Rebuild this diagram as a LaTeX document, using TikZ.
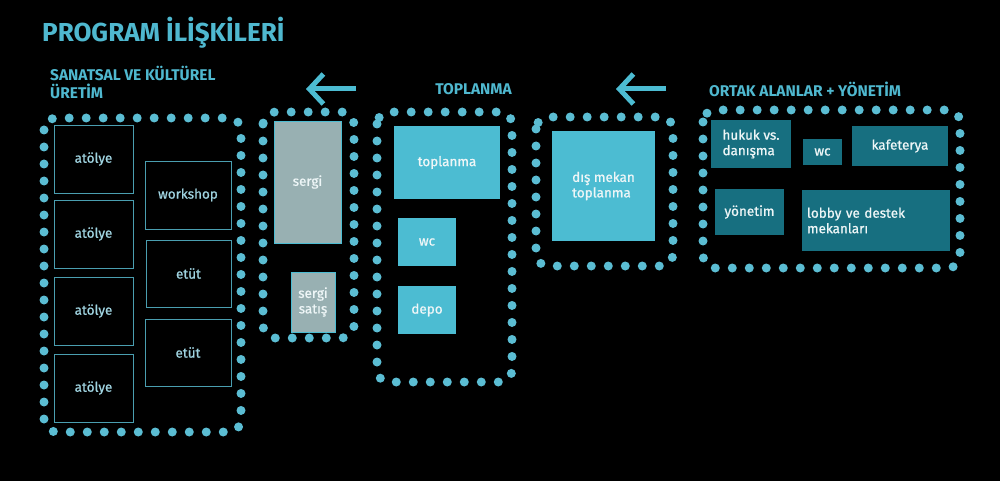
\documentclass[tikz,border=0pt]{standalone}
\usepackage{fontspec}
\setmainfont{Fira Sans}
\newfontfamily\medfont{Fira Sans}[FakeBold=0.8]
\usetikzlibrary{arrows.meta}
\definecolor{dotcol}{HTML}{5BBDD3}
\definecolor{titlecol}{HTML}{4FB8CF}
\definecolor{edgecol}{HTML}{4A9EB0}
\definecolor{lighttxt}{HTML}{9FD3E0}
\definecolor{brightfill}{HTML}{4CBCD2}
\definecolor{darkfill}{HTML}{176F80}
\definecolor{greyfill}{HTML}{98B0B2}
\definecolor{whitetxt}{HTML}{EEF6F7}

\tikzset{
  dotbox/.style={draw=dotcol, line width=9pt, line cap=round, dash pattern=on 0pt off 17pt, rounded corners=12pt},
  roombox/.style={inner sep=0pt, align=center, font=\medfont\fontsize{13.5}{15.5}\selectfont},
  outbox/.style={roombox, draw=edgecol, line width=0.8pt, text=lighttxt},
  brightbox/.style={roombox, fill=brightfill, text=whitetxt},
  darkbox/.style={roombox, fill=darkfill, text=whitetxt},
  greybox/.style={roombox, fill=greyfill, draw=brightfill, line width=0.8pt, text=whitetxt},
  heading/.style={text=titlecol, font=\fontsize{15.5}{18}\selectfont\bfseries, inner sep=0pt, align=left},
  backarrow/.style={draw=brightfill, line width=5pt, -{Straight Barb[length=14pt, width=30pt, line width=5pt]}}
}

\begin{document}
\begin{tikzpicture}[x=1pt, y=-1pt]

  \fill[black] (0,0) rectangle (1000,481);
  \useasboundingbox (0,0) rectangle (1000,481);

  \node[heading, anchor=west, font=\fontsize{26}{30}\selectfont\bfseries] (title) at (42,33) {PROGRAM İLİŞKİLERİ};

  % headings
  \node[heading, anchor=north west] (headSanat) at (50,66) {SANATSAL VE KÜLTÜREL\\ÜRETİM};
  \node[heading, anchor=east] (headToplanma) at (512,89) {TOPLANMA};
  \node[heading, anchor=west] (headOrtak) at (709,89) {ORTAK ALANLAR + YÖNETİM};

  \coordinate (arrowAstart) at (356,89);
  \coordinate (arrowAend) at (306,89);
  \draw[backarrow] (arrowAstart) -- (arrowAend);
  \coordinate (arrowBstart) at (666,89);
  \draw[backarrow] (arrowBstart) -- ++(-50,0) coordinate (arrowBend);

  % dotted groups
  \draw[dotbox] (44,118) rectangle (241,432);
  \draw[dotbox] (263,112) rectangle (354,338);
  \draw[dotbox] (377,112) rectangle (512,382);
  \draw[dotbox] (536,117) rectangle (673,266);
  \draw[dotbox] (703,110) rectangle (960,268);

  % sanatsal ve kulturel uretim
  \node[outbox, minimum width=79pt, minimum height=68pt] (atolyeA) at (93.5,159) {atölye};
  \node[outbox, minimum width=79pt, minimum height=68pt] (atolyeB) at (93.5,234) {atölye};
  \node[outbox, minimum width=79pt, minimum height=68pt] (atolyeC) at (93.5,311) {atölye};
  \node[outbox, minimum width=79pt, minimum height=68pt] (atolyeD) at (93.5,388) {atölye};
  \node[outbox, minimum width=86pt, minimum height=68pt] (workshop) at (188,195) {workshop};
  \node[outbox, minimum width=85pt, minimum height=67pt] (etutA) at (188.5,273.5) {etüt};
  \node[outbox, minimum width=86pt, minimum height=67pt] (etutB) at (188,352.5) {etüt};

  % sergi
  \node[greybox, minimum width=67pt, minimum height=122pt] (sergi) at (307.5,182) {sergi};
  \node[greybox, minimum width=44pt, minimum height=60pt] (sergiSatis) at (313,302) {sergi\\satış};

  % toplanma
  \node[brightbox, minimum width=106pt, minimum height=73pt] (toplanma) at (447,162.5) {toplanma};
  \node[brightbox, minimum width=58pt, minimum height=48pt] (wcA) at (427,242) {wc};
  \node[brightbox, minimum width=58pt, minimum height=48pt] (depo) at (427,310) {depo};

  % dis mekan
  \node[brightbox, minimum width=103pt, minimum height=110pt, align=left] (disMekan) at (603.5,186) {dış mekan\\toplanma};

  % ortak alanlar + yonetim
  \node[darkbox, minimum width=80pt, minimum height=48pt, align=left] (hukuk) at (751,144) {hukuk vs.\\danışma};
  \node[darkbox, minimum width=39pt, minimum height=26pt] (wcB) at (822.5,152) {wc};
  \node[darkbox, minimum width=96pt, minimum height=40pt] (kafeterya) at (900,146) {kafeterya};
  \node[darkbox, minimum width=69pt, minimum height=46pt] (yonetim) at (749.5,212) {yönetim};
  \node[darkbox, minimum width=148pt, minimum height=61pt, text width=138pt, align=left] (lobby) at (876,220.5) {lobby ve destek\\mekanları};

\end{tikzpicture}
\end{document}
